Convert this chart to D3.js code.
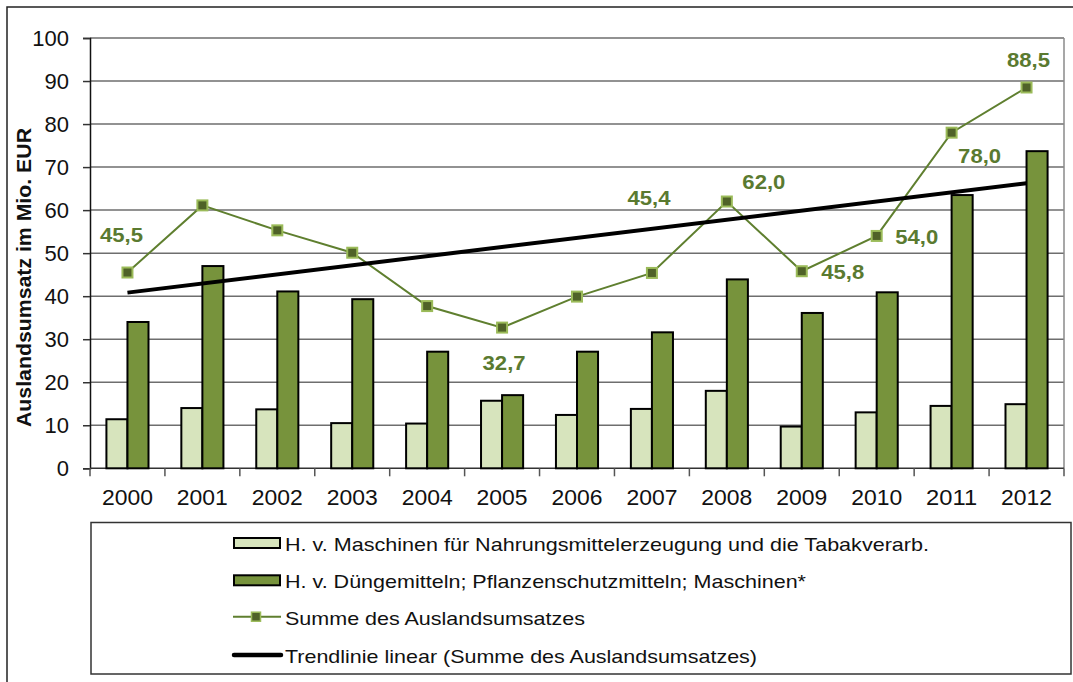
<!DOCTYPE html>
<html>
<head>
<meta charset="utf-8">
<script src="https://cdn.jsdelivr.net/npm/d3@7"></script>
<style>
  html, body { margin: 0; padding: 0; background: #fff; }
  svg { display: block; font-family: "Liberation Sans", Arial, sans-serif; }
</style>
</head>
<body>
<svg id="chart" width="1073" height="682"></svg>
<script>
// ---- data ----
const years = ["2000","2001","2002","2003","2004","2005","2006","2007","2008","2009","2010","2011","2012"];
const maschinenNahrung = [11.4, 14.0, 13.7, 10.5, 10.4, 15.7, 12.4, 13.8, 18.0, 9.7, 13.0, 14.5, 14.9];
const duengemittel = [34.0, 47.0, 41.1, 39.3, 27.1, 17.0, 27.1, 31.6, 43.9, 36.1, 40.9, 63.5, 73.7];
const summe = [45.5, 61.1, 55.3, 50.1, 37.7, 32.7, 39.9, 45.4, 62.0, 45.8, 54.0, 78.0, 88.5];
const summeLabels = ["45,5", null, null, null, null, "32,7", null, "45,4", "62,0", "45,8", "54,0", "78,0", "88,5"];
const yTicks = [0, 10, 20, 30, 40, 50, 60, 70, 80, 90, 100];
const seriesNames = [
  "H. v. Maschinen für Nahrungsmittelerzeugung und die Tabakverarb.",
  "H. v. Düngemitteln; Pflanzenschutzmitteln; Maschinen*",
  "Summe des Auslandsumsatzes",
  "Trendlinie linear (Summe des Auslandsumsatzes)"
];
const yTitle = "Auslandsumsatz im Mio. EUR";

// ---- label placement (pixel offsets from the point) ----
const labelOffsets = [[-6,-38],null,null,null,null,[2,35],null,[-3,-75],[37,-20],[41,1],[40,1],[28,23],[2,-28]];

// ---- styles ----
const C = {
  light: "#d7e4bd", dark: "#77933c", line: "#5f7f2f",
  markerFill: "#4f6228", markerStroke: "#9bbb59", label: "#5a7a30",
  grid: "#6e6e6e"
};

const svg = d3.select("#chart");
const L = 90, R = 1064, T = 38, B = 468.3;

// outer frame
svg.append("rect").attr("x", 7).attr("y", 7).attr("width", 1100).attr("height", 700)
  .attr("fill", "none").attr("stroke", "#222").attr("stroke-width", 1.5);

const x = d3.scaleBand().domain(years).range([L, R]).paddingInner(0).paddingOuter(0);
const xSub = d3.scaleBand().domain(["a","b"]).range([0, x.bandwidth()]).paddingInner(0).paddingOuter(0.78);
const y = d3.scaleLinear().domain([0, 100]).range([B, T]);

// gridlines
svg.append("g").selectAll("line").data(yTicks.filter(d => d > 0)).join("line")
  .attr("x1", L).attr("x2", R).attr("y1", d => y(d)).attr("y2", d => y(d))
  .attr("stroke", C.grid).attr("stroke-width", 1.5);
// right border of plot area
svg.append("line").attr("x1", R).attr("x2", R).attr("y1", T).attr("y2", B)
  .attr("stroke", "#8a8a8a").attr("stroke-width", 1.5);

// y axis
const yAxis = svg.append("g").attr("transform", `translate(${L},0)`)
  .call(d3.axisLeft(y).tickValues(yTicks).tickSize(7).tickPadding(14).tickFormat(d3.format("d")));
yAxis.select(".domain").attr("stroke", "#111").attr("stroke-width", 1.5);
yAxis.selectAll(".tick line").attr("stroke", "#333").attr("stroke-width", 1.5);
yAxis.selectAll(".tick text").attr("font-size", 22).attr("fill", "#111")
  .attr("font-family", "Liberation Sans, Arial, sans-serif");

// x axis (ticks at band boundaries)
svg.append("line").attr("x1", L).attr("x2", R).attr("y1", B).attr("y2", B)
  .attr("stroke", "#333").attr("stroke-width", 1.5);
svg.append("g").selectAll("line").data(years.concat(["end"])).join("line")
  .attr("x1", (d, i) => L + i * x.step()).attr("x2", (d, i) => L + i * x.step())
  .attr("y1", B).attr("y2", B + 8).attr("stroke", "#555").attr("stroke-width", 1.5);
svg.append("g").selectAll("text").data(years).join("text")
  .attr("x", d => x(d) + x.bandwidth() / 2).attr("y", 505)
  .attr("text-anchor", "middle").attr("font-size", 22).attr("fill", "#111")
  .attr("textLength", 51).attr("lengthAdjust", "spacingAndGlyphs").text(d => d);

// y title
svg.append("text").attr("transform", `translate(31,${(128 + 427) / 2}) rotate(-90)`)
  .attr("text-anchor", "middle").attr("font-size", 20).attr("font-weight", "bold").attr("fill", "#111")
  .attr("textLength", 299).attr("lengthAdjust", "spacingAndGlyphs").text(yTitle);

// bars
const barG = svg.append("g");
barG.selectAll("rect.l").data(maschinenNahrung).join("rect").attr("class", "l")
  .attr("x", (d, i) => x(years[i]) + xSub("a")).attr("width", xSub.bandwidth())
  .attr("y", d => y(d)).attr("height", d => B - y(d))
  .attr("fill", C.light).attr("stroke", "#000").attr("stroke-width", 2);
barG.selectAll("rect.d").data(duengemittel).join("rect").attr("class", "d")
  .attr("x", (d, i) => x(years[i]) + xSub("b")).attr("width", xSub.bandwidth())
  .attr("y", d => y(d)).attr("height", d => B - y(d))
  .attr("fill", C.dark).attr("stroke", "#000").attr("stroke-width", 2);

// trend line (least squares fit of summe)
const n = summe.length;
const mx = d3.mean(summe, (d, i) => i), my = d3.mean(summe);
const slope = d3.sum(summe, (d, i) => (i - mx) * (d - my)) / d3.sum(summe, (d, i) => (i - mx) ** 2);
const icpt = my - slope * mx;
const cx = i => x(years[i]) + x.bandwidth() / 2;

// sum line
const line = d3.line().x((d, i) => cx(i)).y(d => y(d));
svg.append("path").datum(summe).attr("d", line).attr("fill", "none")
  .attr("stroke", C.line).attr("stroke-width", 2);

svg.append("line").attr("x1", cx(0)).attr("x2", cx(n - 1))
  .attr("y1", y(icpt)).attr("y2", y(icpt + slope * (n - 1)))
  .attr("stroke", "#000").attr("stroke-width", 4);

// markers
svg.append("g").selectAll("rect").data(summe).join("rect")
  .attr("x", (d, i) => cx(i) - 5).attr("y", d => y(d) - 5).attr("width", 10).attr("height", 10)
  .attr("fill", C.markerFill).attr("stroke", C.markerStroke).attr("stroke-width", 2);

// data labels
const labelIdx = d3.range(n).filter(i => summeLabels[i] !== null);
svg.append("g").selectAll("text").data(labelIdx).join("text")
  .attr("x", i => cx(i) + labelOffsets[i][0])
  .attr("y", i => y(summe[i]) + labelOffsets[i][1])
  .attr("dy", "0.36em").attr("text-anchor", "middle")
  .attr("font-size", 20).attr("font-weight", "bold").attr("fill", C.label)
  .attr("textLength", 43).attr("lengthAdjust", "spacingAndGlyphs")
  .text(i => summeLabels[i]);

// legend
svg.append("rect").attr("x", 91).attr("y", 522.5).attr("width", 980).attr("height", 151.5)
  .attr("fill", "#fff").attr("stroke", "#333").attr("stroke-width", 1.5);
const rowsY = [543, 580.3, 616.7, 655];
const textLens = [644, 521, 300, 472];
const lg = svg.append("g");
lg.append("rect").attr("x", 234).attr("y", rowsY[0] - 5).attr("width", 46).attr("height", 10)
  .attr("fill", C.light).attr("stroke", "#000").attr("stroke-width", 2);
lg.append("rect").attr("x", 234).attr("y", rowsY[1] - 5).attr("width", 46).attr("height", 10)
  .attr("fill", C.dark).attr("stroke", "#000").attr("stroke-width", 2);
lg.append("line").attr("x1", 233).attr("x2", 281).attr("y1", rowsY[2]).attr("y2", rowsY[2])
  .attr("stroke", C.line).attr("stroke-width", 2);
lg.append("rect").attr("x", 256 - 4.5).attr("y", rowsY[2] - 4.5).attr("width", 9).attr("height", 9)
  .attr("fill", C.markerFill).attr("stroke", C.markerStroke).attr("stroke-width", 1.5);
lg.append("line").attr("x1", 234).attr("x2", 281).attr("y1", rowsY[3]).attr("y2", rowsY[3])
  .attr("stroke", "#000").attr("stroke-width", 4.5).attr("stroke-linecap", "round");
lg.selectAll("text").data(seriesNames).join("text")
  .attr("x", 285).attr("y", (d, i) => rowsY[i] + 1).attr("dy", "0.36em")
  .attr("font-size", 19).attr("fill", "#111")
  .attr("textLength", (d, i) => textLens[i]).attr("lengthAdjust", "spacingAndGlyphs")
  .text(d => d);
</script>
</body>
</html>
